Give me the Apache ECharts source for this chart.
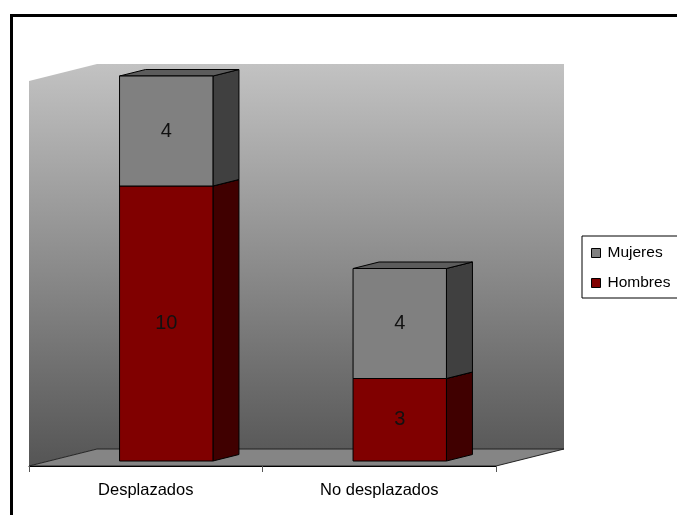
<!DOCTYPE html>
<html>
<head>
<meta charset="utf-8">
<title>Desplazados / No desplazados</title>
<script src="https://cdn.jsdelivr.net/npm/echarts@6/dist/echarts.min.js"></script>
<style>
  html, body { margin: 0; padding: 0; background: #fff; }
  #chart { width: 677px; height: 515px; }
</style>
</head>
<body>
<div id="chart"></div>
<script>
// Data
const categories = ['Desplazados', 'No desplazados'];
const hombres = [10, 3];
const mujeres = [4, 4];
const valueMax = 14;

// 3D look: depth of the floor and placement of the boxes inside it
const DEPTH_X = 68, DEPTH_Y = -17;
const BAR_OFF_X = 20.5, BAR_OFF_Y = -5;
const BAR_DEPTH_X = 26, BAR_DEPTH_Y = -6.5;
const BAR_WIDTH_RATIO = 0.4;

const FONT = '"Liberation Sans", Arial, sans-serif';

const chart = echarts.init(document.getElementById('chart'), null, { renderer: 'canvas' });

// stacked data rows: [categoryIndex, base, value]
const hombresRows = hombres.map((v, i) => [i, 0, v]);
const mujeresRows = mujeres.map((v, i) => [i, hombres[i], v]);

function wallsRenderItem(params) {
  const cs = params.coordSys;
  const x0 = cs.x, x1 = cs.x + cs.width;
  const yTop = cs.y, yBot = cs.y + cs.height;
  const grad = new echarts.graphic.LinearGradient(0, yTop + DEPTH_Y, 0, yBot, [
    { offset: 0, color: '#c2c2c2' },
    { offset: 1, color: '#555555' }
  ], true);
  return {
    type: 'group',
    children: [
      { // side wall
        type: 'polygon',
        shape: { points: [[x0, yTop], [x0 + DEPTH_X, yTop + DEPTH_Y], [x0 + DEPTH_X, yBot + DEPTH_Y], [x0, yBot]] },
        style: { fill: grad }
      },
      { // back wall
        type: 'polygon',
        shape: { points: [[x0 + DEPTH_X, yTop + DEPTH_Y], [x1 + DEPTH_X, yTop + DEPTH_Y], [x1 + DEPTH_X, yBot + DEPTH_Y], [x0 + DEPTH_X, yBot + DEPTH_Y]] },
        style: { fill: grad }
      },
      { // floor
        type: 'polygon',
        shape: { points: [[x0, yBot], [x0 + DEPTH_X, yBot + DEPTH_Y], [x1 + DEPTH_X, yBot + DEPTH_Y], [x1, yBot]] },
        style: { fill: '#858585', stroke: '#222', lineWidth: 1 }
      }
    ]
  };
}

function makeBoxRenderer(front, side, top) {
  return function (params, api) {
    const cat = api.value(0);
    const base = api.value(1);
    const val = api.value(2);
    const bottomPt = api.coord([cat, base]);
    const topPt = api.coord([cat, base + val]);
    const bandW = api.size([1, 0])[0];
    const w = bandW * BAR_WIDTH_RATIO;
    const xL = bottomPt[0] - w / 2 + BAR_OFF_X;
    const xR = xL + w;
    const yB = bottomPt[1] + BAR_OFF_Y;
    const yT = topPt[1] + BAR_OFF_Y;
    const dx = BAR_DEPTH_X, dy = BAR_DEPTH_Y;
    const edge = { stroke: '#000', lineWidth: 1 };
    return {
      type: 'group',
      children: [
        {
          type: 'polygon',
          shape: { points: [[xR, yB], [xR + dx, yB + dy], [xR + dx, yT + dy], [xR, yT]] },
          style: Object.assign({ fill: side }, edge)
        },
        {
          type: 'polygon',
          shape: { points: [[xL, yT], [xR, yT], [xR + dx, yT + dy], [xL + dx, yT + dy]] },
          style: Object.assign({ fill: top }, edge)
        },
        {
          type: 'rect',
          shape: { x: xL, y: yT, width: w, height: yB - yT },
          style: Object.assign({ fill: front }, edge)
        },
        {
          type: 'text',
          x: (xL + xR) / 2,
          y: (yT + yB) / 2,
          style: {
            text: String(val),
            fill: '#111',
            font: '20px ' + FONT,
            align: 'center',
            verticalAlign: 'middle'
          }
        }
      ]
    };
  };
}

const option = {
  backgroundColor: '#fff',
  animation: false,
  textStyle: { fontFamily: FONT },
  graphic: [
    {
      type: 'rect',
      shape: { x: 11.5, y: 15.5, width: 720, height: 560 },
      style: { fill: 'none', stroke: '#000', lineWidth: 3 },
      z: 100
    }
  ],
  grid: { left: 29, right: 181, top: 81, bottom: 49, containLabel: false },
  xAxis: {
    type: 'category',
    data: categories,
    boundaryGap: true,
    axisLine: { show: true, lineStyle: { color: '#000', width: 1 } },
    axisTick: { show: true, length: 6, inside: false, lineStyle: { color: '#555' } },
    axisLabel: { color: '#000', fontSize: 16.5, fontFamily: FONT, margin: 16 },
    splitLine: { show: false },
    z: 10
  },
  yAxis: {
    type: 'value',
    min: 0,
    max: valueMax,
    show: false,
    splitLine: { show: false }
  },
  legend: {
    orient: 'vertical',
    left: 582,
    top: 236,
    data: ['Mujeres', 'Hombres'],
    icon: 'rect',
    itemWidth: 9,
    itemHeight: 9,
    itemGap: 14,
    padding: [9, 24, 7, 9],
    backgroundColor: '#fff',
    borderColor: '#000',
    borderWidth: 1,
    borderRadius: 0,
    itemStyle: { borderColor: '#000', borderWidth: 1 },
    textStyle: { color: '#000', fontSize: 15.5, fontFamily: FONT, lineHeight: 16, padding: [0, 0, 0, 2] },
    selectedMode: false
  },
  series: [
    {
      name: 'walls',
      type: 'custom',
      silent: true,
      z: 1,
      data: [[0, 0]],
      encode: { x: 0, y: 1 },
      renderItem: wallsRenderItem
    },
    {
      name: 'Hombres',
      type: 'custom',
      z: 2,
      itemStyle: { color: '#800000', borderColor: '#000', borderWidth: 1 },
      data: hombresRows,
      encode: { x: 0, y: [1, 2] },
      renderItem: makeBoxRenderer('#800000', '#400000', '#600000')
    },
    {
      name: 'Mujeres',
      type: 'custom',
      z: 3,
      itemStyle: { color: '#808080', borderColor: '#000', borderWidth: 1 },
      data: mujeresRows,
      encode: { x: 0, y: [1, 2] },
      renderItem: makeBoxRenderer('#808080', '#404040', '#5c5c5c')
    }
  ]
};

chart.setOption(option);
</script>
</body>
</html>
